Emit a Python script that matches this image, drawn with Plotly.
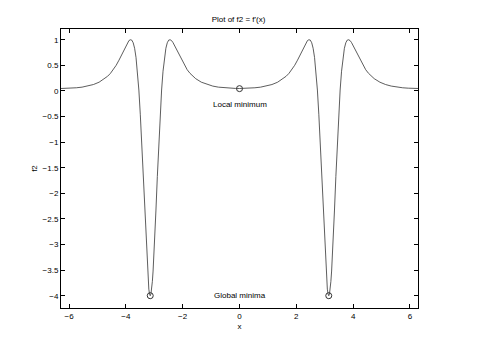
import plotly.graph_objects as go

# Curve samples (x, f2)
x_vals = [
    -6.283, -6.142, -5.942, -5.742, -5.542, -5.342, -5.142, -4.942, -4.742, -4.642,
    -4.542, -4.442, -4.342, -4.242, -4.142, -4.042, -3.942, -3.892, -3.842, -3.792,
    -3.742, -3.692, -3.642, -3.592, -3.542, -3.492, -3.442, -3.392, -3.342, -3.317,
    -3.292, -3.267, -3.242, -3.217, -3.192, -3.167, -3.142,
    -3.117, -3.092, -3.067, -3.042, -3.017, -2.992, -2.967, -2.942, -2.892, -2.842,
    -2.792, -2.742, -2.692, -2.642, -2.592, -2.542, -2.492, -2.442, -2.392, -2.342,
    -2.242, -2.142, -2.042, -1.942, -1.842, -1.742, -1.642, -1.542, -1.342, -1.142,
    -0.942, -0.742, -0.542, -0.342, -0.142, 0.0,
    0.142, 0.342, 0.542, 0.742, 0.942, 1.142, 1.342, 1.542, 1.642, 1.742,
    1.842, 1.942, 2.042, 2.142, 2.242, 2.342, 2.392, 2.442, 2.492, 2.542,
    2.592, 2.642, 2.692, 2.742, 2.792, 2.842, 2.892, 2.942, 2.967, 2.992,
    3.017, 3.042, 3.067, 3.092, 3.117, 3.142,
    3.167, 3.192, 3.217, 3.242, 3.267, 3.292, 3.317, 3.342, 3.392, 3.442,
    3.492, 3.542, 3.592, 3.642, 3.692, 3.742, 3.792, 3.842, 3.892, 3.942,
    4.042, 4.142, 4.242, 4.342, 4.442, 4.542, 4.642, 4.742, 4.942, 5.142,
    5.342, 5.542, 5.742, 5.942, 6.142, 6.283,
]
f2_vals = [
    0.048, 0.049, 0.054, 0.062, 0.074, 0.095, 0.125, 0.171, 0.240, 0.287,
    0.344, 0.415, 0.500, 0.601, 0.716, 0.837, 0.946, 0.984, 1.000, 0.993,
    0.941, 0.833, 0.653, 0.385, 0.018, -0.455, -1.026, -1.671, -2.345, -2.674,
    -2.985, -3.270, -3.518, -3.721, -3.872, -3.965, -4.000,
    -3.965, -3.872, -3.721, -3.518, -3.270, -2.985, -2.674, -2.345, -1.671, -1.026,
    -0.455, 0.018, 0.385, 0.653, 0.833, 0.941, 0.993, 1.000, 0.984, 0.946,
    0.837, 0.716, 0.601, 0.500, 0.415, 0.344, 0.287, 0.240, 0.171, 0.125,
    0.095, 0.074, 0.062, 0.054, 0.049, 0.048,
    0.049, 0.054, 0.062, 0.074, 0.095, 0.125, 0.171, 0.240, 0.287, 0.344,
    0.415, 0.500, 0.601, 0.716, 0.837, 0.946, 0.984, 1.000, 0.993, 0.941,
    0.833, 0.653, 0.385, 0.018, -0.455, -1.026, -1.671, -2.345, -2.674, -2.985,
    -3.270, -3.518, -3.721, -3.872, -3.965, -4.000,
    -3.965, -3.872, -3.721, -3.518, -3.270, -2.985, -2.674, -2.345, -1.671, -1.026,
    -0.455, 0.018, 0.385, 0.653, 0.833, 0.941, 0.993, 1.000, 0.984, 0.946,
    0.837, 0.716, 0.601, 0.500, 0.415, 0.344, 0.287, 0.240, 0.171, 0.125,
    0.095, 0.074, 0.062, 0.054, 0.049, 0.048,
]

# Marked minima
min_x = [-3.142, 0.0, 3.142]
min_y = [-4.0, 0.045, -4.0]

x_ticks = [-6, -4, -2, 0, 2, 4, 6]
y_ticks = [1, 0.5, 0, -0.5, -1, -1.5, -2, -2.5, -3, -3.5, -4]

font = "Liberation Sans, Arial, Helvetica, sans-serif"
fs = 8

fig = go.Figure()
fig.add_trace(go.Scatter(x=x_vals, y=f2_vals, mode="lines",
                         line=dict(color="#333333", width=0.8), showlegend=False))
fig.add_trace(go.Scatter(x=min_x, y=min_y, mode="markers",
                         marker=dict(symbol="circle-open", size=6,
                                     color="#333333", line=dict(width=1)),
                         showlegend=False))

fig.add_annotation(x=0.0, y=-0.27, text="Local minimum", showarrow=False,
                   font=dict(family=font, size=fs, color="black"))
fig.add_annotation(x=0.0, y=-4.0, text="Global minima", showarrow=False,
                   font=dict(family=font, size=fs, color="black"))

axis_common = dict(showline=True, linecolor="black", linewidth=1, mirror="ticks",
                   ticks="inside", ticklen=4, tickcolor="black", showgrid=False,
                   zeroline=False, tickfont=dict(family=font, size=fs, color="black"))

fig.update_layout(
    width=480, height=351,
    margin=dict(l=61, r=62, t=29, b=43),
    paper_bgcolor="white", plot_bgcolor="white",
    title=dict(text="Plot of f2 = f'(x)", x=0.497, xanchor="center", y=0.945,
               yanchor="middle", font=dict(family=font, size=fs, color="black")),
    xaxis=dict(range=[-6.283, 6.283], tickvals=x_ticks,
               title=dict(text="x", standoff=3, font=dict(family=font, size=fs, color="black")),
               **axis_common),
    yaxis=dict(range=[-4.24, 1.21], tickvals=y_ticks,
               title=dict(text="f2", standoff=3, font=dict(family=font, size=fs, color="black")),
               **axis_common),
)

fig.write_html("out.html")
